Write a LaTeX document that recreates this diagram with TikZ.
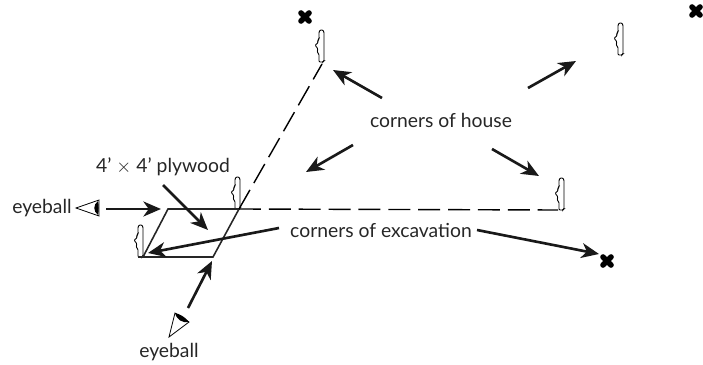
\documentclass[tikz,border=0pt]{standalone}
\usepackage{fontspec}
\setmainfont{Lato}
\usetikzlibrary{calc}
\usetikzlibrary{arrows.meta}
\tikzset{
    pointer/.style={-{Stealth[length=10pt,width=8.5pt,inset=3pt]}, line width=1.5pt, black!90},
    sightline/.style={line width=0.8pt, dash pattern=on 12.5pt off 4.5pt},
    boardline/.style={line width=0.9pt, black!85},
    caption/.style={inner sep=0pt, font=\fontsize{11}{13}\selectfont, black!85},
    stake/.pic={
        \draw[line width=0.5pt, fill=white, rounded corners=0.6pt]
            (-1,0) -- (-1,-8) -- (-3,-10) -- (-2,-13) -- (-5,-17) -- (-2,-19) -- (-2,-22) -- (-1,-23)
            -- (-1,-30) -- (0,-32) -- (3,-32) -- (4,-30) -- (4,-1) -- (3,0) -- cycle;
    },
    crossmark/.pic={
        \draw[line width=3.2pt, line cap=round] (-4,-4) -- (4,4);
        \draw[line width=3.2pt, line cap=round] (-4,4) -- (4,-4);
    }
}
\begin{document}
\begin{tikzpicture}[x=0.02cm,y=-0.02cm]
        \useasboundingbox (0,0) rectangle (703,365);

        %STAKES
        \foreach \px/\py in {320/62, 619/55, 560/210, 236/209, 139/257}{
            \pic at (\px,\py) {stake};
        }

        %CROSSES
        \foreach \px/\py in {305/17, 696/11, 607/261}{
            \pic at (\px,\py) {crossmark};
        }

        %PLYWOOD
        \coordinate (boardNW) at (168,209);
        \coordinate (boardNE) at (239,209);
        \coordinate (boardSE) at (213,257);
        \coordinate (boardSW) at (143,257);
        \coordinate (boardend) at (138,257);
        \draw[boardline] (boardSW) -- (boardNW) -- (boardNE) -- (boardSE) -- (boardend);

        %SIGHT LINES
        \coordinate (sightE) at (558,210);
        \coordinate (sightN) at (322,64);
        \draw[sightline] (boardNE) -- (sightE);
        \draw[sightline] (boardNE) -- (sightN);

        %EYES
        \draw[line width=0.45pt, fill=white] (76,208) -- (99,200) -- (99,216) -- cycle;
        \fill (98,201) .. controls (93,205) and (93,211) .. (98,215) .. controls (99,211) and (99,205) .. (98,201);
        \draw[line width=0.45pt, fill=white] (169,337) -- (175,313) -- (189,322) -- cycle;
        \fill (175,313) .. controls (177,320) and (182,323) .. (189,322) .. controls (185,317) and (180,314) .. (175,313);

        %LABEL
        \node[caption] (house) at (441,120) {corners of house};
        \node[caption] (excavation) at (381,230) {corners of excavation};
        \node[caption] (plywood) at (163,167) {4' $\times$ 4' plywood};
        \node[caption] (eyeleft) at (42,208) {eyeball};
        \node[caption] (eyebottom) at (169,352) {eyeball};

        %ARROWS
        \foreach \ax/\ay/\bx/\by in {
            106/209/161/209, 163/185/208/230, 279/228/148/253, 188/308/212/261,
            382/98/333/70, 528/88/576/61, 353/145/306/172, 492/149/539/176, 477/230/599/254}{
            \coordinate (tail) at (\ax,\ay);
            \coordinate (head) at (\bx,\by);
            \draw[pointer] (tail) -- (head);
        }
    \end{tikzpicture}
\end{document}
